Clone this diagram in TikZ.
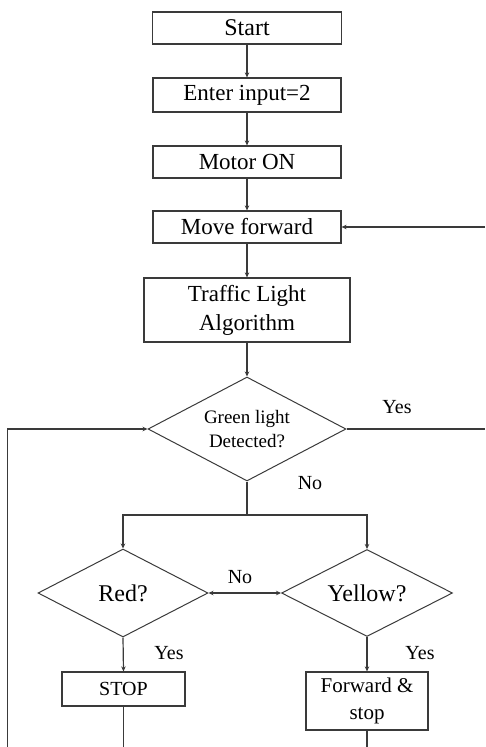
\documentclass[tikz,border=0pt]{standalone}
\usepackage{fontspec}
\setmainfont{Liberation Serif}
\usetikzlibrary{shapes.geometric,arrows.meta}
\definecolor{ink}{HTML}{3A3A3A}
\tikzset{
  proc/.style={draw=ink, line width=1.2pt, rectangle, inner sep=0pt, align=center, text=black},
  decide/.style={draw=ink, line width=1pt, diamond, inner sep=0pt},
  dtext/.style={inner sep=0pt, align=center, text=black},
  link/.style={draw=ink, line width=1.2pt},
  flow/.style={link, -{Stealth[length=5pt,width=4.5pt]}},
  lbl/.style={inner sep=0pt, font=\fontsize{20}{22}\selectfont}
}
\begin{document}
\begin{tikzpicture}[x=1pt,y=-1pt]
\useasboundingbox (0,0) rectangle (485,747);

% main column
\node[proc, minimum width=189pt, minimum height=32pt, font=\fontsize{24}{26}\selectfont] (start) at (247,28) {Start};
\node[proc, minimum width=188pt, minimum height=34pt, font=\fontsize{23}{25}\selectfont] (input) at (247,95) {Enter input=2};
\node[proc, minimum width=188pt, minimum height=32pt, font=\fontsize{23}{25}\selectfont] (motor) at (247,162) {Motor ON};
\node[proc, minimum width=188pt, minimum height=32pt, font=\fontsize{23}{25}\selectfont] (move) at (247,227) {Move forward};
\node[proc, minimum width=206pt, minimum height=64pt, font=\fontsize{23}{29}\selectfont] (algo) at (247,310) {Traffic Light\\Algorithm};

% decisions: outline and wording kept apart so the outline keeps its size
\node[decide, minimum width=198pt, minimum height=104pt] (green) at (247,429) {};
\node[dtext, font=\fontsize{19}{24}\selectfont] (greentext) at (green) {Green light\\Detected?};
\node[decide, minimum width=170pt, minimum height=88pt] (red) at (123,593) {};
\node[dtext, font=\fontsize{24}{26}\selectfont] (redtext) at (red) {Red?};
\node[decide, minimum width=171pt, minimum height=87pt] (yellow) at (367,593) {};
\node[dtext, font=\fontsize{24}{26}\selectfont] (yellowtext) at (yellow) {Yellow?};

\node[proc, minimum width=123pt, minimum height=34pt, font=\fontsize{20}{22}\selectfont] (stop) at (123.5,689) {STOP};
\node[proc, minimum width=122pt, minimum height=58pt, font=\fontsize{21}{27}\selectfont] (fwd) at (367,701) {Forward \&\\stop};

% loose ends
\coordinate (split) at (247,515);
\coordinate (loopin) at (7.5,747);
\coordinate (rightout) at (485,429);
\coordinate (rightin) at (485,227);
\coordinate (stopend) at (123.5,747);
\coordinate (fwdend) at (367,747);

% connectors
\draw[flow] (start) -- (input);
\draw[flow] (input) -- (motor);
\draw[flow] (motor) -- (move);
\draw[flow] (move) -- (algo);
\draw[flow] (algo) -- (green);
\draw[link] (green.south) -- (split);
\draw[flow] (split) -| (red.north);
\draw[flow] (split) -| (yellow.north);
\draw[link, {Stealth[length=5pt,width=4.5pt]}-{Stealth[length=5pt,width=4.5pt]}] (red.east) -- (yellow.west);
\draw[flow] (red.south) -- (stop.north);
\draw[flow] (yellow.south) -- (fwd.north);
\draw[link] (stop.south) -- (stopend);
\draw[link] (fwd.south) -- (fwdend);
\draw[flow] (loopin) |- (green.west);
\draw[link] (green.east) -- (rightout);
\draw[flow] (rightin) -- (move.east);

% labels
\node[lbl] (yesg) at (397,407) {Yes};
\node[lbl] (nog) at (310,483) {No};
\node[lbl] (nor) at (240,577) {No};
\node[lbl] (yesr) at (169,653) {Yes};
\node[lbl] (yesy) at (420,653) {Yes};
\end{tikzpicture}
\end{document}
